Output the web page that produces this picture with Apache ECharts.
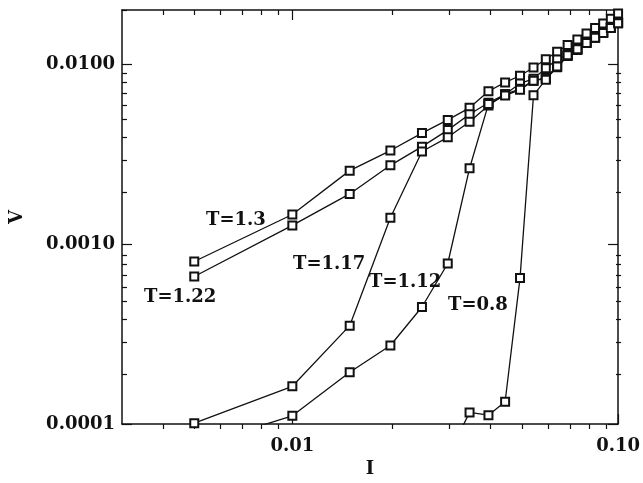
<!DOCTYPE html>
<html>
<head>
<meta charset="utf-8">
<script src="https://cdn.jsdelivr.net/npm/echarts@6/dist/echarts.min.js"></script>
<style>
  html, body { margin: 0; padding: 0; background: #fff; }
  #chart { width: 643px; height: 483px; }
</style>
</head>
<body>
<div id="chart"></div>
<script>
// current I (x), one entry per measured point
const currents = [0.005, 0.01, 0.015, 0.02, 0.025, 0.03, 0.035, 0.04, 0.045, 0.05,
  0.055, 0.06, 0.065, 0.07, 0.075, 0.08, 0.085, 0.09, 0.095, 0.1];

// voltage V for each temperature
const vT130 = [0.00080, 0.00146, 0.00256, 0.00331, 0.00414, 0.00490, 0.00572, 0.00707, 0.00792, 0.00862,
  0.00958, 0.01065, 0.01173, 0.01276, 0.01371, 0.0148, 0.01589, 0.0168, 0.0179, 0.0191];
const vT122 = [0.00066, 0.00127, 0.0019, 0.00274, 0.00348, 0.0043, 0.00527, 0.0061, 0.0068, 0.0078,
  0.0083, 0.0095, 0.0106, 0.0113, 0.0122, 0.0133, 0.0142, 0.0151, 0.0161, 0.0171];
const vT117 = [0.000101, 0.000162, 0.000352, 0.0014, 0.00327, 0.00392, 0.00478, 0.0059, 0.0068, 0.0073,
  0.0081, 0.0084, 0.0097, 0.0112, 0.0121, 0.0132, 0.0141, 0.015, 0.016, 0.017];
const vT112 = [0.000075, 0.000111, 0.000194, 0.000273, 0.000447, 0.00078, 0.00264, 0.006, 0.0067, 0.0072,
  0.0081, 0.0083, 0.0096, 0.0111, 0.012, 0.0131, 0.014, 0.0149, 0.0159, 0.0169];
const vT080 = [null, null, null, null, null, 0.000066, 0.000116, 0.000112, 0.000133, 0.000647,
  0.00672, 0.0082, 0.0097, 0.0112, 0.0121, 0.0131, 0.014, 0.0149, 0.0159, 0.0169];

const seriesNames = ['T=1.3', 'T=1.22', 'T=1.17', 'T=1.12', 'T=0.8'];
const seriesValues = [vT130, vT122, vT117, vT112, vT080];

// axis ticks
const xMajor = [0.01, 0.1];
const xMinor = [0.004, 0.005, 0.006, 0.007, 0.008, 0.009, 0.02, 0.03, 0.04, 0.05, 0.06, 0.07, 0.08, 0.09];
const yMajor = [0.0001, 0.001, 0.01];
const yMinor = [0.0002, 0.0003, 0.0004, 0.0005, 0.0006, 0.0007, 0.0008, 0.0009,
  0.002, 0.003, 0.004, 0.005, 0.006, 0.007, 0.008, 0.009, 0.02];
const xLabels = ['0.01', '0.10'];
const yLabels = ['0.0001', '0.0010', '0.0100'];

const xMin = 0.003, xMax = 0.1;
const yMin = 0.0001, yMax = 0.02;

const font = 'DejaVu Serif';
const ink = '#111';

const chart = echarts.init(document.getElementById('chart'));

const gridBox = { left: 122, right: 22, top: 10, bottom: 54 };

const makeX = (grid, pos, ticks, len, showLine, labels) => ({
  type: 'log', gridIndex: grid, position: pos, min: xMin, max: xMax,
  axisLine: { show: showLine, lineStyle: { color: ink, width: 1.5 } },
  axisTick: { show: true, inside: true, length: len, customValues: ticks, lineStyle: { color: ink, width: 1.2 } },
  axisLabel: labels ? {
    show: true, customValues: xMajor, margin: 13, color: ink, fontFamily: font, fontSize: 18, fontWeight: 'bold',
    formatter: v => xLabels[xMajor.findIndex(m => Math.abs(m - v) / m < 1e-6)]
  } : { show: false },
  splitLine: { show: false }, minorTick: { show: false }
});

const makeY = (grid, pos, ticks, len, showLine, labels) => ({
  type: 'log', gridIndex: grid, position: pos, min: yMin, max: yMax,
  axisLine: { show: showLine, lineStyle: { color: ink, width: 1.5 } },
  axisTick: { show: true, inside: true, length: len, customValues: ticks, lineStyle: { color: ink, width: 1.2 } },
  axisLabel: labels ? {
    show: true, customValues: yMajor, margin: 7, color: ink, fontFamily: font, fontSize: 18, fontWeight: 'bold',
    formatter: v => yLabels[yMajor.findIndex(m => Math.abs(m - v) / m < 1e-6)]
  } : { show: false },
  splitLine: { show: false }, minorTick: { show: false }
});

const xBottom = makeX(0, 'bottom', xMajor, 10, true, true);
xBottom.name = 'I';
xBottom.nameLocation = 'middle';
xBottom.nameGap = 36;
xBottom.nameTextStyle = { color: ink, fontFamily: font, fontSize: 18, fontWeight: 'bold' };

const yLeft = makeY(0, 'left', yMajor, 10, true, true);
yLeft.name = 'V';
yLeft.nameLocation = 'middle';
yLeft.nameGap = 96;
yLeft.nameTextStyle = { color: ink, fontFamily: font, fontSize: 18, fontWeight: 'bold' };

const labelFont = 'bold 18px "DejaVu Serif"';

const option = {
  animation: false,
  backgroundColor: '#fff',
  grid: [Object.assign({}, gridBox), Object.assign({}, gridBox)],
  xAxis: [
    xBottom,
    makeX(0, 'top', xMajor, 10, true, false),
    makeX(1, 'bottom', xMinor, 5, false, false),
    makeX(1, 'top', xMinor, 5, false, false)
  ],
  yAxis: [
    yLeft,
    makeY(0, 'right', yMajor, 10, true, false),
    makeY(1, 'left', yMinor, 5, false, false),
    makeY(1, 'right', yMinor, 5, false, false)
  ],
  series: seriesNames.map((name, i) => ({
    name: name,
    type: 'line',
    xAxisIndex: 0,
    yAxisIndex: 0,
    data: currents.map((c, j) => [c, seriesValues[i][j]]),
    symbol: 'emptyRect',
    symbolSize: 8,
    clip: true,
    connectNulls: false,
    lineStyle: { color: ink, width: 1.3 },
    itemStyle: { color: ink, borderColor: ink, borderWidth: 1.5 },
    z: 3
  })),
  graphic: [
    { type: 'text', left: 206, top: 211, style: { text: 'T=1.3', fill: ink, font: labelFont } },
    { type: 'text', left: 144, top: 288, style: { text: 'T=1.22', fill: ink, font: labelFont } },
    { type: 'text', left: 293, top: 255, style: { text: 'T=1.17', fill: ink, font: labelFont } },
    { type: 'text', left: 369, top: 273, style: { text: 'T=1.12', fill: ink, font: labelFont } },
    { type: 'text', left: 448, top: 296, style: { text: 'T=0.8', fill: ink, font: labelFont } }
  ]
};

chart.setOption(option);
</script>
</body>
</html>
